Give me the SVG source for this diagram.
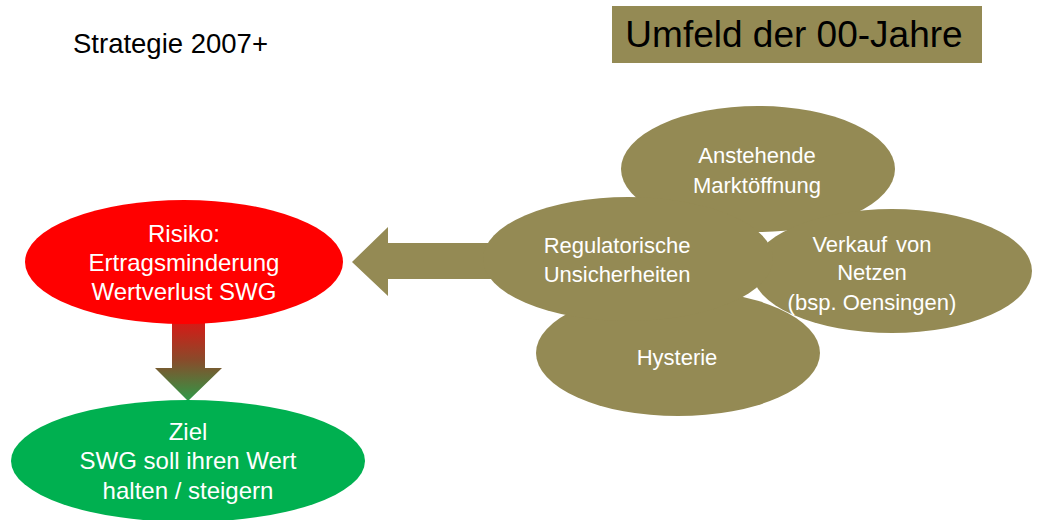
<svg xmlns="http://www.w3.org/2000/svg" width="1038" height="520" viewBox="0 0 1038 520">
  <defs>
    <linearGradient id="downGrad" x1="0" y1="0" x2="0" y2="1">
      <stop offset="0" stop-color="#e01414"/>
      <stop offset="0.5" stop-color="#8a4a2a"/>
      <stop offset="1" stop-color="#2e9a48"/>
    </linearGradient>
    <style>
      text { font-family: "Liberation Sans", Arial, sans-serif; }
      .olive { fill: #948a54; }
      .wt { fill: #ffffff; text-anchor: middle; }
      .t22 { font-size: 22px; }
      .t24 { font-size: 24px; }
    </style>
  </defs>
  <rect width="1038" height="520" fill="#ffffff"/>

  <g id="strategie">
    <text x="73" y="53" font-size="27.5" fill="#000000">Strategie 2007+</text>
  </g>

  <g id="title">
    <rect class="olive" x="612" y="6" width="370" height="57"/>
    <text x="794" y="47" font-size="37" fill="#000000" text-anchor="middle">Umfeld der 00-Jahre</text>
  </g>

  <g id="connectors">
    <polygon class="olive" points="352,262 388,227 388,243 500,243 500,279 388,279 388,296"/>
    <polygon fill="url(#downGrad)" points="172,318 205,318 205,368 222,368 188,401 155,368 172,368"/>
  </g>

  <g id="marktoeffnung">
    <ellipse class="olive" cx="758" cy="169" rx="137" ry="63"/>
    <text class="wt t22" x="757" y="163">Anstehende</text>
    <text class="wt t22" x="757" y="193">Marktöffnung</text>
  </g>

  <g id="hysterie">
    <ellipse class="olive" cx="678" cy="353" rx="142" ry="63"/>
    <text class="wt t22" x="677" y="365">Hysterie</text>
  </g>

  <g id="verkauf">
    <ellipse class="olive" cx="892" cy="271" rx="140" ry="62"/>
    <text class="wt t22" x="872" y="252" word-spacing="3">Verkauf von</text>
    <text class="wt t22" x="872" y="280">Netzen</text>
    <text class="wt t22" x="872" y="310">(bsp. Oensingen)</text>
  </g>

  <g id="regulatorisch">
    <ellipse class="olive" cx="628" cy="259" rx="145" ry="62"/>
    <text class="wt t22" x="617" y="253">Regulatorische</text>
    <text class="wt t22" x="617" y="282">Unsicherheiten</text>
  </g>

  <g id="risiko">
    <ellipse cx="184" cy="262" rx="159" ry="62" fill="#ff0000"/>
    <text class="wt t24" x="184" y="242">Risiko:</text>
    <text class="wt t24" x="184" y="271">Ertragsminderung</text>
    <text class="wt t24" x="184" y="300">Wertverlust SWG</text>
  </g>

  <g id="ziel">
    <ellipse cx="188" cy="461" rx="177" ry="61" fill="#00b050"/>
    <text class="wt t24" x="188" y="440">Ziel</text>
    <text class="wt t24" x="188" y="469">SWG soll ihren Wert</text>
    <text class="wt t24" x="188" y="499">halten / steigern</text>
  </g>
</svg>
